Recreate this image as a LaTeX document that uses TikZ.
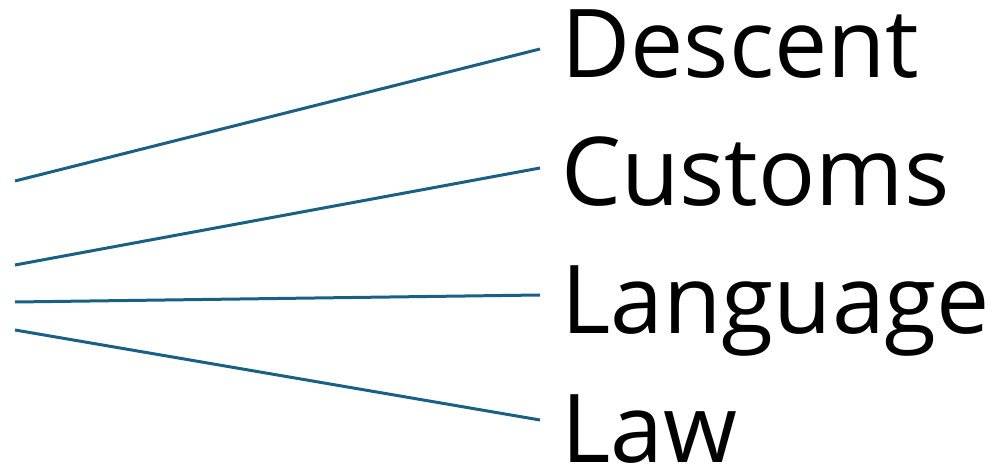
\documentclass[tikz,border=0pt]{standalone}
\usepackage{fontspec}
\setmainfont{Open Sans}
\definecolor{linecol}{RGB}{26,96,133}
\tikzset{
  lbl/.style={anchor=base west, inner sep=0pt, font=\fontsize{95bp}{95bp}\selectfont, text=black},
  conn/.style={draw=linecol, line width=3bp}
}
\begin{document}
\begin{tikzpicture}[x=1bp,y=-1bp]
\useasboundingbox (0,0) rectangle (1008,468);
\coordinate (s1) at (15,181);
\coordinate (s2) at (15,265);
\coordinate (s3) at (15,302);
\coordinate (s4) at (15,330);
\coordinate (e1) at (540,49);
\coordinate (e2) at (540,168);
\coordinate (e3) at (540,295);
\coordinate (e4) at (540,420);
\node[lbl] (t1) at (561,78) {Descent};
\node[lbl] (t2) at (561,206) {Customs};
\node[lbl] (t3) at (561,334) {Language};
\node[lbl] (t4) at (561,462) {Law};
\draw[conn] (s1) -- (e1);
\draw[conn] (s2) -- (e2);
\draw[conn] (s3) -- (e3);
\draw[conn] (s4) -- (e4);
\end{tikzpicture}
\end{document}
